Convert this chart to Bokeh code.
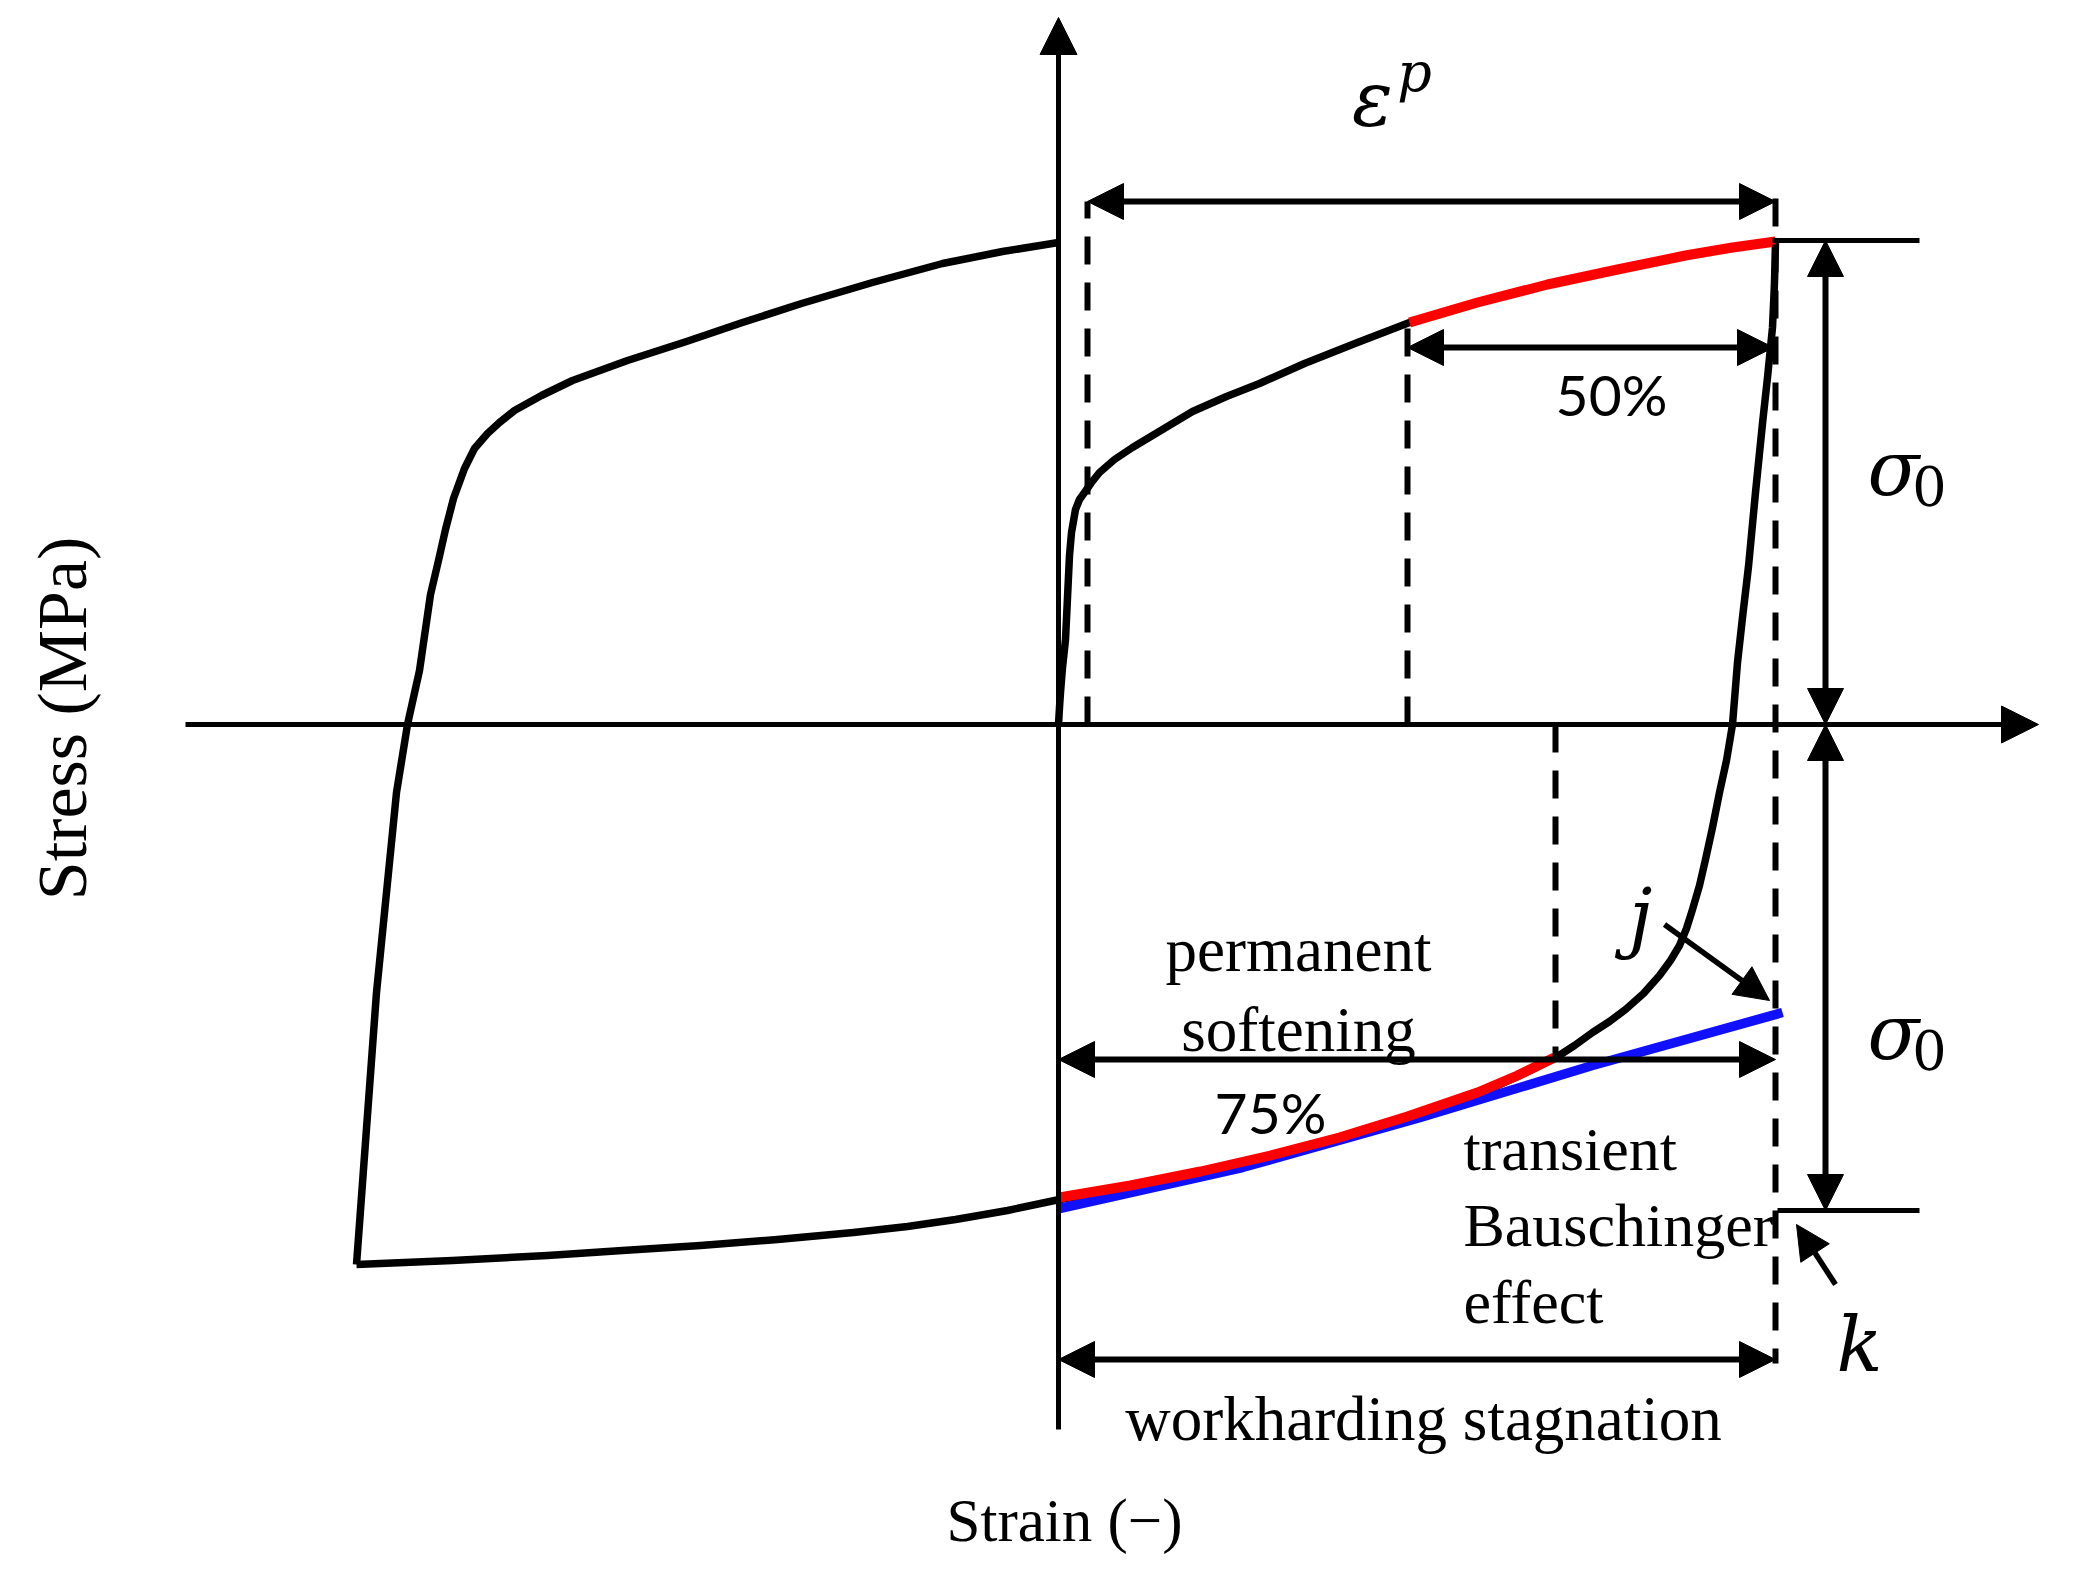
import math
from bokeh.plotting import figure
from bokeh.models import Range1d, Arrow, NormalHead, ColumnDataSource
from bokeh.core.properties import value
from bokeh.embed import file_html
from bokeh.resources import INLINE

# ---------------- schematic data (strain, stress in arbitrary units) ----------------
# first loading from the origin up to the peak
load_strain = [0.00, 0.01, 0.02, 0.04, 0.07, 0.09, 0.11, 0.13, 0.17, 0.21, 0.26, 0.33, 0.41, 0.56,
               0.74, 1.04, 1.34, 1.68, 2.01, 2.46, 2.99, 3.51, 4.19, 4.89, 5.59, 6.27, 6.74, 7.17]
load_stress = [0.00, 0.17, 0.32, 0.57, 0.85, 1.27, 1.69, 1.92, 2.15, 2.25, 2.32, 2.42, 2.52, 2.65,
               2.77, 2.95, 3.13, 3.28, 3.41, 3.61, 3.82, 4.02, 4.22, 4.40, 4.55, 4.69, 4.77, 4.83]

# reverse loading from the peak down to the compressive end
rev_strain = [7.17, 7.16, 7.14, 7.09, 7.04, 6.97, 6.90, 6.84, 6.79, 6.74, 6.68, 6.61, 6.54, 6.47,
              6.41, 6.34, 6.28, 6.21, 6.12, 6.01, 5.85, 5.67, 5.51, 5.34, 5.16, 4.96, 4.59, 4.19,
              3.49, 2.81, 2.12, 1.42, 0.72, 0.01, -0.51, -1.03, -1.51, -2.05, -2.81, -3.58,
              -4.36, -5.11, -6.06, -7.02]
rev_stress = [4.83, 4.42, 3.97, 3.47, 3.01, 2.32, 1.58, 1.07, 0.62, 0.00, -0.36, -0.68, -1.03, -1.35,
              -1.61, -1.85, -2.04, -2.21, -2.36, -2.51, -2.69, -2.85, -2.97, -3.08, -3.21, -3.34,
              -3.52, -3.70, -3.94, -4.15, -4.33, -4.49, -4.63, -4.75, -4.86, -4.95, -5.02, -5.08,
              -5.15, -5.21, -5.26, -5.31, -5.36, -5.40]

# reloading from the compressive end back up to the vertical axis
rel_strain = [-7.02, -6.92, -6.82, -6.72, -6.62, -6.51, -6.39, -6.28, -6.20, -6.13, -6.05, -5.94,
              -5.84, -5.71, -5.59, -5.44, -5.17, -4.86, -4.31, -3.72, -3.16, -2.57, -1.86, -1.16,
              -0.56, 0.00]
rel_stress = [-5.40, -4.04, -2.68, -1.68, -0.68, 0.00, 0.54, 1.30, 1.64, 1.95, 2.26, 2.56,
              2.76, 2.91, 3.02, 3.14, 3.29, 3.44, 3.64, 3.83, 4.02, 4.21, 4.42, 4.61,
              4.73, 4.82]

# red highlighted segments
red_top_strain = [3.51, 4.19, 4.89, 5.59, 6.27, 6.74, 7.17]
red_top_stress = [4.02, 4.22, 4.40, 4.55, 4.69, 4.77, 4.83]
red_bot_strain = [0.01, 0.72, 1.42, 2.12, 2.81, 3.49, 4.19, 4.59, 4.96]
red_bot_stress = [-4.73, -4.61, -4.47, -4.31, -4.13, -3.92, -3.68, -3.51, -3.33]

# blue permanent-softening line
blue_strain = [0.01, 1.84, 3.62, 5.34, 7.24]
blue_stress = [-4.84, -4.43, -3.93, -3.41, -2.88]

# key levels
eps_start, eps_end = 0.29, 7.17        # plastic strain span
half_start = 3.49                       # 50 % point
bausch_x = 4.97                         # 75 % point
peak_stress, trough_stress = 4.84, -4.86
sigma_x = 7.67

FONT_SERIF = "Liberation Serif"
FONT_MATH = "DejaVu Serif"
FONT_SANS = "Lato"

p = figure(width=2071, height=1565,
           x_range=Range1d(-10.58, 10.13), y_range=Range1d(-8.41, 7.24),
           output_backend="svg", toolbar_location=None,
           x_axis_location=None, y_axis_location=None,
           min_border=0, outline_line_color=None)
p.grid.visible = False
p.background_fill_color = "white"
p.border_fill_color = "white"

# ---------------- curves ----------------
CW = 7.5
p.line(load_strain, load_stress, line_color="black", line_width=CW, line_join="round")
p.line(rev_strain, rev_stress, line_color="black", line_width=CW, line_join="round")
p.line(rel_strain, rel_stress, line_color="black", line_width=CW, line_join="round")
p.line(blue_strain, blue_stress, line_color="#1010ff", line_width=9.5, line_join="round")
p.line(red_top_strain, red_top_stress, line_color="#ff0000", line_width=10, line_join="round")
p.line(red_bot_strain, red_bot_stress, line_color="#ff0000", line_width=10, line_join="round")

# ---------------- dashed guide lines ----------------
dash_src = ColumnDataSource(dict(
    x0=[eps_start, half_start, eps_end, bausch_x],
    y0=[0.0, 0.0, 5.26, 0.0],
    x1=[eps_start, half_start, eps_end, bausch_x],
    y1=[5.23, 4.02, -6.39, -3.34],
))
p.segment("x0", "y0", "x1", "y1", source=dash_src, line_color="black",
          line_width=6, line_dash="28 18")

# solid reference lines at peak and trough
p.segment([7.14, 7.19], [peak_stress, trough_stress], [8.61, 8.61], [peak_stress, trough_stress],
          line_color="black", line_width=5)

# ---------------- axes as arrows ----------------
def head(sz):
    return NormalHead(size=sz, fill_color="black", line_color="black", line_width=1)

p.add_layout(Arrow(end=head(37), x_start=-8.73, y_start=0.0, x_end=9.80, y_end=0.0,
                   line_width=5, line_color="black"))
p.add_layout(Arrow(end=head(37), x_start=0.0, y_start=-7.05, x_end=0.0, y_end=7.07,
                   line_width=5, line_color="black"))

# ---------------- dimension arrows ----------------
dim_src = ColumnDataSource(dict(
    x0=[eps_start, half_start, 0.0, 0.0, sigma_x, sigma_x],
    y0=[5.23, 3.77, -3.35, -6.35, peak_stress, 0.0],
    x1=[eps_end, 7.15, eps_end, eps_end, sigma_x, sigma_x],
    y1=[5.23, 3.77, -3.35, -6.35, 0.0, trough_stress],
))
p.add_layout(Arrow(start=head(36), end=head(36), x_start="x0", y_start="y0",
                   x_end="x1", y_end="y1", source=dim_src, line_width=6, line_color="black"))

# pointer arrows j and k
ptr_src = ColumnDataSource(dict(x0=[6.06, 7.77], y0=[-2.00, -5.60], x1=[7.11, 7.38], y1=[-2.76, -5.00]))
p.add_layout(Arrow(end=head(34), x_start="x0", y_start="y0", x_end="x1", y_end="y1",
                   source=ptr_src, line_width=5.5, line_color="black"))

# ---------------- texts ----------------
def txt(x, y, s, font, size, align="center", style="normal", angle=0.0):
    p.text([x], [y], text=[s], text_font=value(font), text_font_size=value(f"{size}px"),
           text_align=align, text_baseline="alphabetic", text_font_style=style,
           text_color="black", angle=angle)

txt(2.40, -2.25, "permanent", FONT_SERIF, 63)
txt(2.40, -3.05, "softening", FONT_SERIF, 63)
txt(4.05, -4.24, "transient", FONT_SERIF, 62, align="left")
txt(4.05, -5.00, "Bauschinger", FONT_SERIF, 62, align="left")
txt(4.05, -5.77, "effect", FONT_SERIF, 62, align="left")
txt(3.65, -6.94, "workharding stagnation", FONT_SERIF, 63)
txt(0.06, -7.96, "Strain (\u2212)", FONT_SERIF, 61)
txt(-9.96, 0.06, "Stress (MPa)", FONT_SERIF, 70, angle=math.pi / 2)

txt(5.53, 3.31, "50%", FONT_SANS, 57)
txt(2.12, -3.87, "75%", FONT_SANS, 57)

txt(3.14, 6.25, "\u03b5", FONT_MATH, 76, style="italic")
txt(3.56, 6.52, "p", FONT_MATH, 54, style="italic")
txt(8.35, 2.56, "\u03c3", FONT_MATH, 76, style="italic")
txt(8.71, 2.39, "0", FONT_MATH, 54)
txt(8.35, -3.08, "\u03c3", FONT_MATH, 76, style="italic")
txt(8.71, -3.25, "0", FONT_MATH, 54)
txt(5.82, -1.92, "j", FONT_MATH, 76, style="italic")
txt(8.01, -6.20, "k", FONT_MATH, 76, style="italic")

open("out.html", "w").write(file_html(p, INLINE))
